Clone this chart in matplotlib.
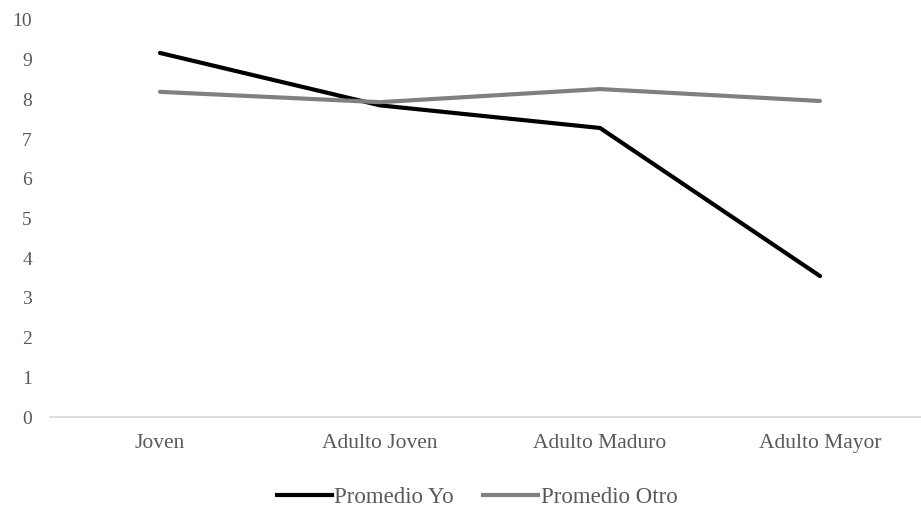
import matplotlib
matplotlib.use("Agg")
import matplotlib.pyplot as plt
from matplotlib.lines import Line2D

categories = ["Joven", "Adulto Joven", "Adulto Maduro", "Adulto Mayor"]
promedio_yo = [9.17, 7.85, 7.28, 3.55]
promedio_otro = [8.19, 7.93, 8.26, 7.96]
y_ticks = list(range(0, 11))

plt.rcParams["font.family"] = ["Liberation Serif", "DejaVu Serif"]

W, H = 921, 508
fig = plt.figure(figsize=(W / 100, H / 100), dpi=100)
ax = fig.add_axes([50 / W, (H - 417) / H, 880 / W, 397 / H])

x = list(range(len(categories)))
ax.plot(x, promedio_yo, color="black", lw=3.0, solid_capstyle="round", label="Promedio Yo")
ax.plot(x, promedio_otro, color="#808080", lw=3.0, solid_capstyle="round", label="Promedio Otro")

ax.set_xlim(-0.5, len(categories) - 0.5)
ax.set_ylim(0, 10)
ax.set_yticks(y_ticks)
ax.set_yticklabels([str(t) for t in y_ticks])
ax.set_xticks(x)
ax.set_xticklabels(categories)

for side in ["top", "right", "left"]:
    ax.spines[side].set_visible(False)
ax.spines["bottom"].set_color("#d9d9d9")
ax.spines["bottom"].set_linewidth(1.2)
ax.tick_params(axis="both", length=0, labelcolor="#595959")
ax.tick_params(axis="y", labelsize=14, pad=13)
ax.tick_params(axis="x", labelsize=15.5, pad=12.5)

handles = [Line2D([], [], color="black", lw=3.0),
           Line2D([], [], color="#808080", lw=3.0)]
fig.legend(handles, ["Promedio Yo", "Promedio Otro"], loc="center",
           bbox_to_anchor=(477 / W, 1 - 497 / H), ncol=2, frameon=False,
           fontsize=16.5, labelcolor="#595959", handlelength=2.4,
           handletextpad=0.1, columnspacing=1.3)

fig.savefig("out.png", dpi=100)
